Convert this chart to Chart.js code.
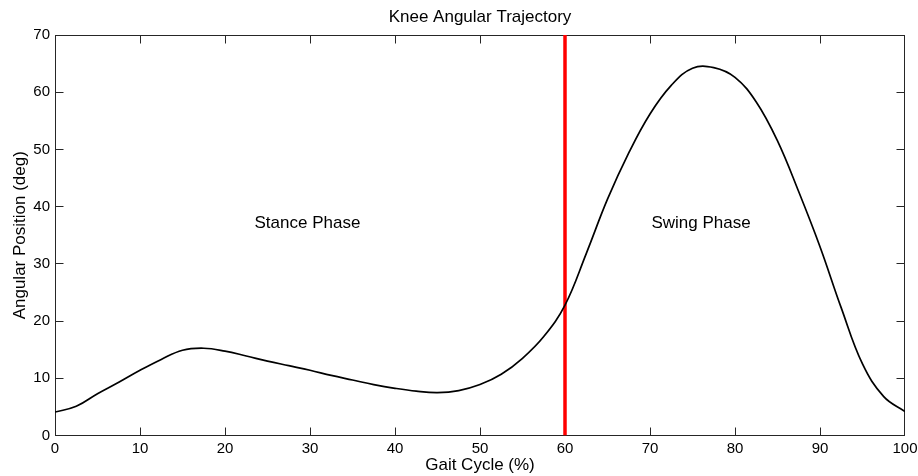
<!DOCTYPE html>
<html>
<head>
<meta charset="utf-8">
<script src="https://cdn.jsdelivr.net/npm/chart.js@4.4.0/dist/chart.umd.min.js"></script>
<style>
  html, body { margin: 0; padding: 0; background: #fff; }
  #wrap { width: 918px; height: 476px; }
</style>
</head>
<body>
<div id="wrap"><canvas id="kneeChart"></canvas></div>
<script>
// gait cycle (%) and knee angle (deg)
const gaitPercent = [0, 2.5, 5, 7.5, 10, 12.5, 15, 17.5, 20, 22.5, 25, 27.5, 30, 32.5, 35, 37.5, 40,
    42.5, 45, 47.5, 50, 52.5, 55, 57.5, 60, 62.5, 65, 67.5, 70, 72.5, 75, 77.5, 80, 82.5, 85, 87.5,
    90, 92.5, 95, 97.5, 100];
const kneeAngle = [4.1, 5.1, 7.3, 9.3, 11.4, 13.3, 14.9, 15.25, 14.75, 13.9, 13.0, 12.2, 11.4, 10.5,
    9.7, 8.9, 8.25, 7.75, 7.5, 7.85, 8.9, 10.7, 13.5, 17.3, 22.8, 31.8, 41.3, 49.4, 56.2, 61.2, 64.2,
    64.3, 62.6, 58.3, 51.5, 42.6, 33.0, 22.3, 12.5, 6.8, 4.2];
const phaseSplit = 60;
const xTicks = [0, 10, 20, 30, 40, 50, 60, 70, 80, 90, 100];
const yTicks = [0, 10, 20, 30, 40, 50, 60, 70];
const phaseNames = ['Stance Phase', 'Swing Phase'];
const phaseCenters = [29.7, 76];
const phaseLabelY = 37;
const chartTitle = 'Knee Angular Trajectory';

const FONT = '"Liberation Sans", Arial, sans-serif';
const AXIS_COLOR = '#262626';

// MATLAB style box with inward ticks on all four sides, plus title and phase labels
const matlabFrame = {
    id: 'matlabFrame',
    beforeDatasetsDraw(chart) {
        const { ctx, chartArea: a, scales: { x, y } } = chart;
        const L = Math.round(a.left) + 0.5;
        const R = Math.round(a.right) - 0.5;
        const T = Math.round(a.top) + 0.5;
        const B = Math.round(a.bottom) - 0.5;
        const clamp = (v, lo, hi) => Math.min(Math.max(v, lo), hi);
        ctx.save();
        ctx.strokeStyle = AXIS_COLOR;
        ctx.lineWidth = 1;
        ctx.strokeRect(L, T, R - L, B - T);
        ctx.beginPath();
        xTicks.forEach(v => {
            const px = clamp(Math.floor(x.getPixelForValue(v)) + 0.5, L, R);
            ctx.moveTo(px, B); ctx.lineTo(px, B - 8);
            ctx.moveTo(px, T); ctx.lineTo(px, T + 8);
        });
        yTicks.forEach(v => {
            const py = clamp(Math.floor(y.getPixelForValue(v)) + 0.5, T, B);
            ctx.moveTo(L, py); ctx.lineTo(L + 8, py);
            ctx.moveTo(R, py); ctx.lineTo(R - 8, py);
        });
        ctx.stroke();
        ctx.restore();
    },
    afterDatasetsDraw(chart) {
        const { ctx, chartArea: a, scales: { x, y } } = chart;
        ctx.save();
        ctx.fillStyle = '#000';
        ctx.font = '17px ' + FONT;
        ctx.textAlign = 'center';
        ctx.textBaseline = 'middle';
        phaseNames.forEach((name, i) => {
            ctx.fillText(name, x.getPixelForValue(phaseCenters[i]), y.getPixelForValue(phaseLabelY));
        });
        ctx.fillText(chartTitle, (a.left + a.right) / 2, 17);
        ctx.restore();
    }
};

const points = gaitPercent.map((g, i) => ({ x: g, y: kneeAngle[i] }));
const splitLine = [
    { x: phaseSplit, y: yTicks[0] },
    { x: phaseSplit, y: yTicks[yTicks.length - 1] }
];

new Chart(document.getElementById('kneeChart').getContext('2d'), {
    type: 'scatter',
    data: {
        datasets: [{
            data: points,
            showLine: true,
            borderColor: '#000',
            borderWidth: 1.7,
            pointRadius: 0,
            tension: 0.4
        }, {
            data: splitLine,
            showLine: true,
            borderColor: '#ff0000',
            borderWidth: 3.5,
            pointRadius: 0
        }]
    },
    options: {
        responsive: true,
        maintainAspectRatio: false,
        animation: false,
        events: [],
        layout: { padding: { left: 0, right: 13, top: 35, bottom: 0 } },
        plugins: {
            legend: { display: false },
            tooltip: { enabled: false },
            title: { display: false }
        },
        scales: {
            x: {
                type: 'linear',
                min: 0,
                max: 100,
                grid: { display: false, drawTicks: false },
                border: { display: false },
                ticks: {
                    stepSize: 10,
                    padding: 4,
                    color: '#000',
                    font: { family: FONT, size: 15 },
                    maxRotation: 0
                },
                title: {
                    display: true,
                    text: 'Gait Cycle (%)',
                    color: '#000',
                    font: { family: FONT, size: 17 },
                    padding: { top: 0, bottom: 0 }
                },
                afterFit(scale) {
                    scale.height = 40.5;
                    scale.paddingLeft = 0;
                    scale.paddingRight = 0;
                }
            },
            y: {
                min: 0,
                max: 70,
                grid: { display: false, drawTicks: false },
                border: { display: false },
                ticks: {
                    stepSize: 10,
                    padding: 5,
                    color: '#000',
                    font: { family: FONT, size: 15 }
                },
                title: {
                    display: true,
                    text: 'Angular Position (deg)',
                    color: '#000',
                    font: { family: FONT, size: 17 },
                    padding: { top: 10, bottom: 0 }
                },
                afterFit(scale) {
                    scale.width = 55;
                    scale.paddingTop = 0;
                    scale.paddingBottom = 0;
                }
            }
        }
    },
    plugins: [matlabFrame]
});
</script>
</body>
</html>
